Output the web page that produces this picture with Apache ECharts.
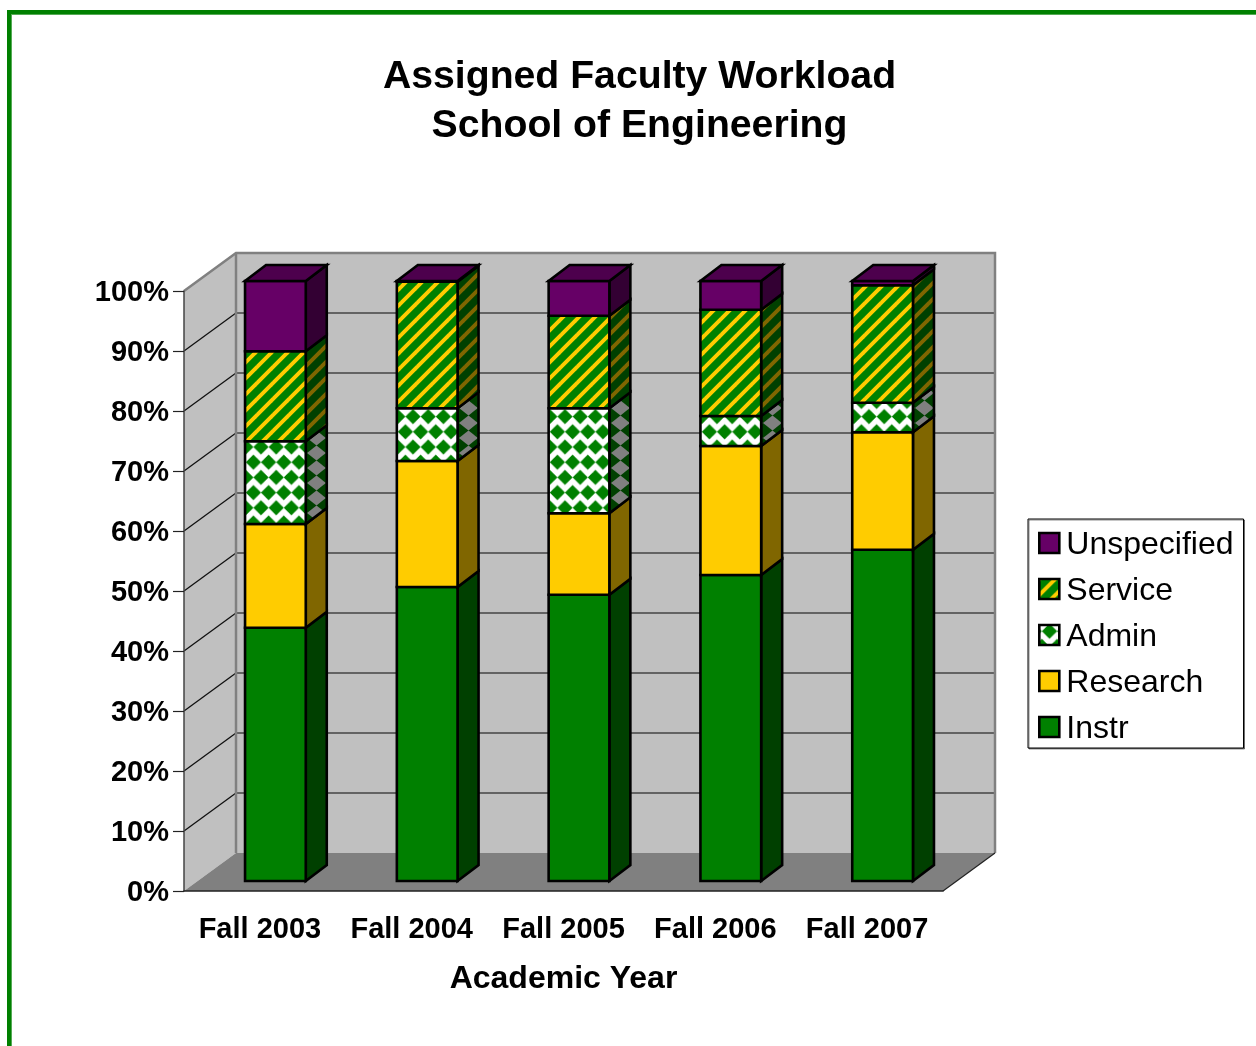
<!DOCTYPE html>
<html><head><meta charset="utf-8">
<style>html,body{margin:0;padding:0;background:#fff}#c{width:1256px;height:1046px}</style>
<script src="https://cdn.jsdelivr.net/npm/echarts@6/dist/echarts.min.js"></script>
</head><body><div id="c"></div>
<script>
const titleText = 'Assigned Faculty Workload\nSchool of Engineering';
const years = ['Fall 2003','Fall 2004','Fall 2005','Fall 2006','Fall 2007'];
const instr = [42.2,49.0,47.7,51.0,55.2];
const research = [17.3,21.0,13.6,21.5,19.6];
const admin = [13.8,8.8,17.5,5.0,4.9];
const service = [15.0,21.1,15.4,17.7,19.6];
const unspecified = [11.7,0.1,5.8,4.8,0.7];
const gridTicks = [0,10,20,30,40,50,60,70,80,90,100];

const FONT = '"Liberation Sans", Arial, sans-serif';
const WALL = {dx:52, dy:-38};
const BAR = {dx:21, dy:-16, ox:15.5, oy:-10, widthRatio:0.4};

function tile(w,h,draw){const c=document.createElement('canvas');c.width=w;c.height=h;draw(c.getContext('2d'),w,h);return c;}
function stripes(bg,fg){return {image:tile(16,16,(g,w,h)=>{
  g.fillStyle=bg;g.fillRect(0,0,w,h);g.fillStyle=fg;
  for(let k=-1;k<=1;k++){const o=k*16;
    g.beginPath();g.moveTo(o-2.75,16);g.lineTo(o+2.75,16);g.lineTo(o+18.75,0);g.lineTo(o+13.25,0);g.closePath();g.fill();}
}),repeat:'repeat'};}
function diamondAt(g,x,y,hw,hh){g.beginPath();g.moveTo(x-hw,y);g.lineTo(x,y-hh);g.lineTo(x+hw,y);g.lineTo(x,y+hh);g.closePath();g.fill();}
function diamonds(bg,fg){return {image:tile(16,32,(g,w,h)=>{
  g.fillStyle=bg;g.fillRect(0,0,w,h);g.fillStyle=fg;
  for(let ox=-16;ox<=32;ox+=16){ for(let oy=-32;oy<=32;oy+=32){
    diamondAt(g,2.7+ox,22.5+oy,8,8); diamondAt(g,10.7+ox,6.5+oy,8,8);
  } }
}),repeat:'repeat',scaleX:0.95,scaleY:0.95};}
function sideDiamonds(bg,fg){return {image:tile(19,15,(g,w,h)=>{
  g.fillStyle=bg;g.fillRect(0,0,w,h);g.fillStyle=fg;
  for(let oy=-15;oy<=15;oy+=15){ diamondAt(g,12.5,3+oy,9.5,7.5); diamondAt(g,12.5-19,3+oy,9.5,7.5); }
}),repeat:'repeat'};}

const layers = [
 {name:'Instr',values:instr,front:'#008000',side:'#004000',top:'#006000'},
 {name:'Research',values:research,front:'#FFCC00',side:'#806600',top:'#BF9900'},
 {name:'Admin',values:admin,front:diamonds('#FFFFFF','#008000'),side:sideDiamonds('#004000','#808080'),top:'#BFBFBF'},
 {name:'Service',values:service,front:stripes('#008000','#FFCC00'),side:stripes('#004000','#806600'),top:'#006000'},
 {name:'Unspecified',values:unspecified,front:'#660066',side:'#330033',top:'#4D004D'}
];
const bases = years.map(()=>0);
const stroke = {stroke:'#000',lineWidth:2.6,lineJoin:'miter'};

function poly(points,style,z2){return {type:'polygon',shape:{points},style,z2:z2||0,silent:true};}

const barSeries = layers.map((L,li)=>{
  const data = L.values.map((v,i)=>{const d=[i,bases[i],bases[i]+v];bases[i]+=v;return d;});
  return {
    name:L.name,type:'custom',coordinateSystem:'cartesian2d',clip:false,z:5,silent:true,
    itemStyle:{color:L.front,borderColor:'#000',borderWidth:2.6},
    encode:{x:0,y:[1,2]},data,
    renderItem(params,api){
      const i=api.value(0),a=api.coord([i,api.value(1)]),b=api.coord([i,api.value(2)]);
      const band=api.size([1,0])[0],w=band*BAR.widthRatio;
      const x0=a[0]+BAR.ox-w/2,x1=x0+w,y0=a[1]+BAR.oy,y1=b[1]+BAR.oy;
      const kids=[
        poly([[x1,y0],[x1+BAR.dx,y0+BAR.dy],[x1+BAR.dx,y1+BAR.dy],[x1,y1]],Object.assign({fill:L.side},stroke)),
        poly([[x0,y0],[x1,y0],[x1,y1],[x0,y1]],Object.assign({fill:L.front},stroke))
      ];
      if(li===layers.length-1) kids.push(poly([[x0,y1],[x1,y1],[x1+BAR.dx,y1+BAR.dy],[x0+BAR.dx,y1+BAR.dy]],Object.assign({fill:L.top},stroke)));
      return {type:'group',children:kids};
    }
  };
});

const wallSeries = {
  type:'custom',coordinateSystem:'cartesian2d',clip:false,z:1,silent:true,legendHoverLink:false,
  encode:{x:0,y:1},data:[[0,0]],
  renderItem(params,api){
    const band=api.size([1,0])[0];
    const xL=api.coord([0,0])[0]-band/2,xR=api.coord([years.length-1,0])[0]+band/2;
    const Y=v=>api.coord([0,v])[1];
    const d=WALL,y0=Y(0),yT=Y(100),kids=[];
    kids.push(poly([[xL,y0],[xL+d.dx,y0+d.dy],[xL+d.dx,yT+d.dy],[xL,yT]],{fill:'#C0C0C0'}));
    kids.push(poly([[xL+d.dx,y0+d.dy],[xR+d.dx,y0+d.dy],[xR+d.dx,yT+d.dy],[xL+d.dx,yT+d.dy]],{fill:'#C0C0C0'}));
    kids.push(poly([[xL,y0],[xL+d.dx,y0+d.dy],[xR+d.dx,y0+d.dy],[xR,y0]],{fill:'#808080'}));
    gridTicks.slice(1,-1).forEach(v=>{
      const y=Y(v);
      kids.push({type:'line',shape:{x1:xL+d.dx,y1:y+d.dy,x2:xR+d.dx,y2:y+d.dy},style:{stroke:'#444',lineWidth:1.5},silent:true});
      kids.push({type:'line',shape:{x1:xL,y1:y,x2:xL+d.dx,y2:y+d.dy},style:{stroke:'#111',lineWidth:1.3},silent:true});
    });
    const edge={stroke:'#808080',lineWidth:2.5,fill:'none',lineJoin:'miter'};
    kids.push({type:'polyline',shape:{points:[[xL,yT],[xL+d.dx,yT+d.dy],[xR+d.dx,yT+d.dy],[xR+d.dx,y0+d.dy]]},style:edge,silent:true});
    kids.push({type:'line',shape:{x1:xL+d.dx,y1:yT+d.dy,x2:xL+d.dx,y2:y0+d.dy},style:edge,silent:true});
    kids.push({type:'line',shape:{x1:xR,y1:y0,x2:xR+d.dx,y2:y0+d.dy},style:{stroke:'#222',lineWidth:1.2},silent:true});
    return {type:'group',children:kids};
  }
};

const yLabelStyle = {fontFamily:FONT,fontSize:29,fontWeight:'bold',color:'#000',padding:[4,0,0,0]};
const legendLabelStyle = {fontFamily:FONT,fontSize:32,color:'#000',padding:[4,0,0,2]};

const chart = echarts.init(document.getElementById('c'),null,{renderer:'canvas'});
chart.setOption({
  animation:false,backgroundColor:'#fff',
  title:{text:titleText,left:634.5,top:48,textAlign:'center',
    textStyle:{fontFamily:FONT,fontSize:39.2,fontWeight:'bold',color:'#000',lineHeight:49}},
  grid:{left:184,top:291,width:759,height:600,containLabel:false},
  xAxis:{type:'category',data:years,boundaryGap:true,z:3,
    name:'Academic Year',nameLocation:'middle',nameGap:72,
    nameTextStyle:{fontFamily:FONT,fontSize:32,fontWeight:'bold',color:'#000'},
    axisLine:{onZero:false,lineStyle:{color:'#222',width:1.5}},
    axisTick:{alignWithLabel:false,length:12,lineStyle:{color:'#222',width:1.2}},
    axisLabel:{margin:24,fontFamily:FONT,fontSize:29,fontWeight:'bold',color:'#000',interval:0},
    splitLine:{show:false}},
  yAxis:{type:'value',min:0,max:100,interval:10,z:3,
    axisLine:{show:true,lineStyle:{color:'#444',width:1.5}},
    axisTick:{show:true,length:11,lineStyle:{color:'#222',width:1.2}},
    axisLabel:{margin:15,formatter:'{a|{value}%}',rich:{a:yLabelStyle},fontFamily:FONT,fontSize:29,fontWeight:'bold',color:'#000'},
    splitLine:{show:false}},
  legend:{orient:'vertical',left:1028,top:519,padding:[10,10,3,10],itemWidth:20,itemHeight:20,itemGap:14,
    backgroundColor:'#fff',borderColor:'#000',borderWidth:1,shadowColor:'rgba(0,0,0,0.45)',shadowOffsetX:1,shadowOffsetY:1,shadowBlur:0,
    formatter:'{a|{name}}',
    textStyle:{fontFamily:FONT,fontSize:32,color:'#000',rich:{a:legendLabelStyle}},selectedMode:false,icon:'rect',
    data:layers.slice().reverse().map(L=>({name:L.name,icon:'rect',itemStyle:{color:L.front,borderColor:'#000',borderWidth:2.6}}))},
  graphic:[
    {type:'rect',shape:{x:7,y:10,width:1249,height:4},style:{fill:'#008000'},z:50,silent:true},
    {type:'rect',shape:{x:7,y:10,width:4,height:1036},style:{fill:'#008000'},z:50,silent:true},
    {type:'rect',shape:{x:11,y:14,width:1245,height:1},style:{fill:'#55aa55'},z:50,silent:true},
    {type:'rect',shape:{x:11,y:14,width:1,height:1032},style:{fill:'#55aa55'},z:50,silent:true}
  ],
  series:[wallSeries].concat(barSeries)
});
</script></body></html>
